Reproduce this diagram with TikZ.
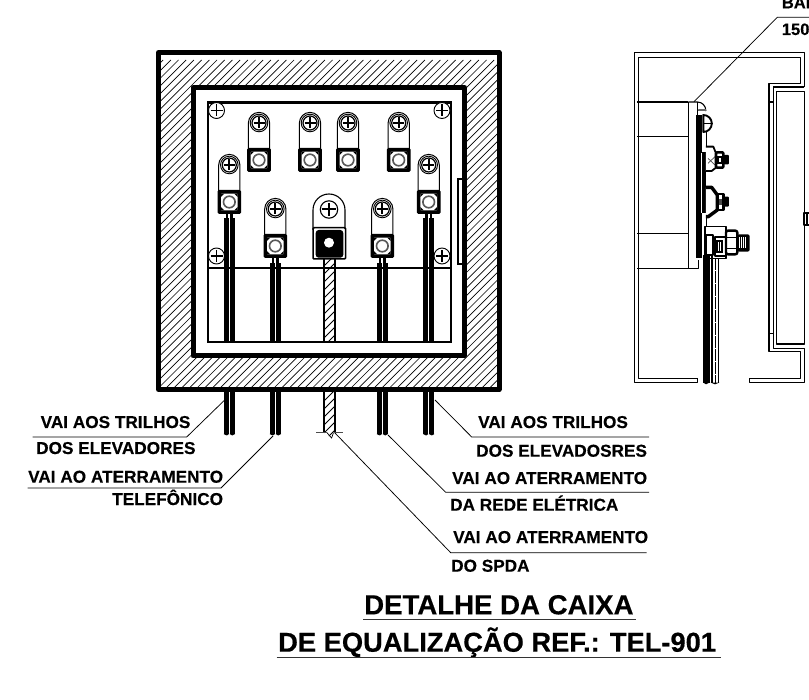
\documentclass[tikz,border=0pt]{standalone}
\usepackage{fontspec}
\setmainfont{Liberation Sans}[BoldFeatures={FakeBold=0.35}]
\tikzset{
  lbl/.style={anchor=base west,inner sep=0pt,font=\bfseries\fontsize{17.2}{19}\selectfont},
  toplbl/.style={anchor=base west,inner sep=0pt,font=\bfseries\fontsize{16.5}{18}\selectfont},
  ttl/.style={anchor=base west,inner sep=0pt,font=\bfseries\fontsize{27.6}{30}\selectfont},
  ttlb/.style={anchor=base west,inner sep=0pt,font=\bfseries\fontsize{27.3}{30}\selectfont},
  leader/.style={draw=black,line width=.75pt},
  thickwall/.style={draw=black,line width=5pt,line join=round},
  thinwall/.style={draw=black,line width=1.1pt,line join=round},
  cornerscrew/.pic={
    \draw[line width=.9pt,fill=white] (0,0) circle[radius=8pt];
    \draw[line width=1.6pt] (-6,0)--(6,0) (0,-6)--(0,6);
  },
  lugpic/.pic={
    \draw[line width=1pt,fill=white] (-10.6,28) -- (-10.6,0) arc[start angle=180,end angle=0,radius=10.6pt] -- (10.6,28);
    \draw[line width=.9pt] (0,0) circle[radius=8.8pt];
    \draw[line width=1.2pt] (0,0) circle[radius=7pt];
    \draw[line width=2pt] (-5.5,0)--(5.5,0) (0,-5.5)--(0,5.5);
    \fill[rounded corners=1.5pt] (-11.8,25) rectangle (11.8,49);
    \fill[white,rounded corners=.6pt] (-8.3,28.6) rectangle (8.3,45.4);
    \fill (-8.3,28.6) -- (-5,28.6) -- (-8.3,32) -- cycle;
    \fill (8.3,28.6) -- (5,28.6) -- (8.3,32) -- cycle;
    \fill (-8.3,45.4) -- (-5,45.4) -- (-8.3,42) -- cycle;
    \fill (8.3,45.4) -- (5,45.4) -- (8.3,42) -- cycle;
    \draw[line width=1.6pt,draw=black!65,fill=white] (0,37) circle[radius=5.8pt];
  }
}
\begin{document}
\begin{tikzpicture}[x=1pt,y=-1pt]
\useasboundingbox (0,0) rectangle (809,700);
% hatching
\begin{scope}
  \clip (158.5,52.5) rectangle (499,389.5);
  \foreach \c in {200,207.7,...,910}{
    \draw[line width=.7pt] (\c-60,60) -- ++(-800,800);
  }
\end{scope}
\fill[white] (193,87.5) rectangle (464.5,356);
\draw[thickwall] (158.5,52.5) rectangle (499,389.5);
\draw[thickwall] (193,87.5) rectangle (464.5,356);
% plate
\draw[line width=1.2pt] (208,102) rectangle (451,342);
\draw[line width=2.6pt] (207,102.3) -- (452,102.3);
\draw[line width=1.3pt] (208,268) -- (451,268);
\draw[line width=1.1pt] (463,264) -- (458,264) -- (458,179) -- (463,179);
% corner screws
\pic (s1) at (216.5,110.5) {cornerscrew};
\pic (s2) at (442,110.5) {cornerscrew};
\pic (s3) at (216.5,256) {cornerscrew};
\pic (s4) at (442,256) {cornerscrew};
% stubs and wires
\foreach \n/\x/\ya/\yb in {a/229.3/213/218,b/275.3/258/263,c/382.3/258/263,d/428.7/213/218}{
  \fill (\x-3.5,\ya) rectangle (\x-1,\yb);
  \fill (\x+1,\ya) rectangle (\x+3.5,\yb);
  \fill (\x-5.7,\yb) rectangle (\x-.3,343);
  \fill (\x+.3,\yb) rectangle (\x+5.7,343);
  \fill (\x-5.7,392) rectangle (\x-.3,434);
  \fill (\x+.3,392) rectangle (\x+5.7,434);
  \fill (\x-5.7,434) -- (\x-2.5,435.5) -- (\x-.3,434) -- cycle;
  \fill (\x+.3,434) -- (\x+3,435.5) -- (\x+5.7,434) -- cycle;
}
% lugs
\pic (l1) at (259,123) {lugpic};
\pic (l2) at (310,123) {lugpic};
\pic (l3) at (348,123) {lugpic};
\pic (l4) at (398.7,123) {lugpic};
\pic (l5) at (229.3,165) {lugpic};
\pic (l6) at (428.7,165) {lugpic};
\pic (l7) at (275.3,209) {lugpic};
\pic (l8) at (382.3,209) {lugpic};
% centre lug
\draw[line width=1.1pt,fill=white] (313,230) -- (313,210) arc[start angle=180,end angle=0,radius=16pt] -- (345,230);
\draw[line width=1.1pt] (329,209.5) circle[radius=8.7pt];
\draw[line width=2pt] (322,209.5)--(336,209.5) (329,203)--(329,216);
\draw[line width=1.5pt,fill=white,rounded corners=1pt] (313,227.7) rectangle (345.5,259);
\fill[rounded corners=3pt] (315.7,230) rectangle (343.3,257.7);
\fill[white] (329,242.7) circle[radius=5pt];
% centre wire, upper part
\begin{scope}
  \clip (324,259) rectangle (335,342);
  \foreach \c in {0,1,...,15}{\draw[line width=.8pt] (320,270+\c*8) -- ++(20,-20);}
\end{scope}
\draw[line width=1.8pt] (324,259.5) -- (324,342) (335,259.5) -- (335,342);
% centre wire, lower part
\begin{scope}
  \clip (324,392) -- (324,432.7) -- (331.6,438) -- (333.5,432.7) -- (335,432.7) -- (335,392) -- cycle;
  \foreach \c in {0,1,...,7}{\draw[line width=.8pt] (320,405+\c*8) -- ++(20,-20);}
\end{scope}
\draw[line width=1.5pt] (324,392) -- (324,432.7) (335,392) -- (335,432.7);
\draw[line width=.7pt] (327,432.7) -- (331.6,438) -- (333.5,432.7);
\draw[line width=.8pt,black!70] (316,432.7) -- (327,432.7) (333.5,432.7) -- (343,432.7);
% side view
\begin{scope}[shift={(620,0)},x=.3333pt,y=-.3333pt,thinwall]
  \draw (233,1136) -- (233,1148) -- (43,1148) -- (43,158) -- (553,158) -- (553,262);
  \draw (233,1136) -- (55,1136) -- (55,172) -- (541,172) -- (541,250) -- (447,250) -- (447,1055) -- (541,1055) -- (541,1136) -- (388,1136) -- (388,1148) -- (553,1148) -- (553,1045) -- (460,1045) -- (460,262);
  \draw[line width=1.7pt] (553,262) -- (458,262);
  \draw (470,1032) -- (470,275) -- (553,275) -- (553,1032) -- cycle;
  \draw (447,306) -- (460,306) (447,1000) -- (460,1000);
  \draw[line width=1.6pt] (52,306) -- (205,306);
  \draw[line width=1.6pt] (52,410) -- (205,410);
  \draw[line width=1.6pt] (52,700) -- (205,700);
  \draw[line width=1.6pt] (52,805) -- (205,805);
  \draw (205,306) -- (205,805) (205,805) -- (235,805) -- (235,780);
  % cap
  \draw (205,306) -- (232,306) arc[start angle=90,end angle=0,radius=8.5pt] -- (232,330);
  \draw (232,306) -- (232,348);
  \draw[black!60] (236,330) -- (258,330);
  \fill (228,345) rectangle (242,775);
  \draw[line width=.8pt] (245,345) -- (245,455) (258,345) -- (258,455) (245,640) -- (245,775) (258,640) -- (258,680);
  \fill (240,455) rectangle (258,640);
  \draw[line width=.5pt,white] (244,460) -- (244,640);
  % screw 1
  \draw[line width=1.9pt,fill=white] (250,345) arc[start angle=90,end angle=-90,radius=8.5pt] -- cycle;
  \draw[line width=1.4pt] (250,371) -- (280,371);
  % bolt 2
  \draw[line width=1.8pt,fill=white] (258,440) -- (280,440) -- (288,460) -- (288,503) -- (275,513) -- (258,513);
  \draw[line width=.7pt,black!70] (264,475) -- (285,495) (264,490) -- (285,470);
  \draw[line width=2.6pt,fill=white,rounded corners=1pt] (288,457) rectangle (310,503);
  \fill (290,468) rectangle (308,492);
  \fill[white] (296,474) rectangle (302,486);
  \fill[rounded corners=1pt] (310,465) rectangle (327,493);
  % bolt 3
  \draw[line width=3.4pt,fill=white] (258,562) -- (275,562) -- (292,585) -- (292,630) -- (265,650) -- (258,650);
  \draw[line width=2.6pt,fill=white] (292,582) rectangle (310,630);
  \fill[black!70] (297,598) rectangle (306,614);
  \fill[rounded corners=1pt] (310,590) rectangle (327,620);
  % bolt 4
  \draw[line width=1.4pt,fill=white] (255,680) rectangle (318,775);
  \draw[line width=1.8pt,fill=white] (258,705) rectangle (280,765);
  \draw[line width=1.8pt,fill=white] (285,712) rectangle (318,768);
  \fill (288,720) rectangle (308,760);
  \foreach \xx in {293,299}{\fill[white] (\xx,726) rectangle (\xx+2,754);}
  \draw[line width=2.4pt,fill=white,rounded corners=2pt] (318,692) rectangle (352,763);
  \draw[line width=.8pt] (320,712) -- (350,712) (320,744) -- (350,744);
  \fill[rounded corners=2pt] (352,703) rectangle (389,755);
  \foreach \xx in {358,364,370,376}{\fill[white] (\xx,712) rectangle (\xx+2,745);}
  % wires
  \fill (250,765) rectangle (270,1148);
  \fill (272,765) rectangle (280,1148);
  \draw[line width=1.1pt,dash pattern=on 12pt off 1pt] (286,775) -- (286,1148);
  \draw[line width=1.4pt] (296,775) -- (296,1148);
  \fill (250,1148) -- (258,1153) -- (268,1148) -- cycle;
  \fill (272,1148) -- (285,1153) -- (298,1148) -- cycle;
  % cut glyph at the page edge
  \draw[line width=2pt] (567,638) -- (553,638) -- (553,675) -- (567,675);
  \draw[line width=2pt] (560,638) -- (560,675);
\end{scope}
% leaders
\coordinate (t1) at (224,400.7);
\coordinate (e1) at (186.7,437);
\coordinate (f1) at (32.7,437);
\draw[leader] (t1) -- (e1) -- (f1);
\coordinate (t2) at (273,436);
\coordinate (e2) at (221,488);
\coordinate (f2) at (27.7,488);
\draw[leader] (t2) -- (e2) -- (f2);
\coordinate (t3) at (435,400);
\coordinate (e3) at (471.7,437);
\coordinate (f3) at (649,437);
\draw[leader] (t3) -- (e3) -- (f3);
\coordinate (t4) at (388,435);
\coordinate (e4) at (445.7,492.3);
\coordinate (f4) at (649,492.3);
\draw[leader] (t4) -- (e4) -- (f4);
\coordinate (t5) at (335,433);
\coordinate (e5) at (450.7,552.7);
\coordinate (f5) at (646.7,552.7);
\draw[leader] (t5) -- (e5) -- (f5);
\coordinate (t6) at (694,101.7);
\coordinate (e6) at (777.3,17.3);
\coordinate (f6) at (809,17.3);
\draw[leader] (t6) -- (e6) -- (f6);
% labels
\node[lbl] (n1) at (40.5,428) {VAI AOS TRILHOS};
\node[lbl] (n2) at (36,454) {DOS ELEVADORES};
\node[lbl] (n3) at (28,482.7) {VAI AO ATERRAMENTO};
\node[lbl] (n4) at (112,505) {TELEFÔNICO};
\node[lbl] (n5) at (478,428) {VAI AOS TRILHOS};
\node[lbl] (n6) at (476,456.7) {DOS ELEVADOSRES};
\node[lbl] (n7) at (452,484) {VAI AO ATERRAMENTO};
\node[lbl] (n8) at (450,510.7) {DA REDE ELÉTRICA};
\node[lbl] (n9) at (453,543) {VAI AO ATERRAMENTO};
\node[lbl] (n10) at (451,571.7) {DO SPDA};
\node[toplbl] (n11) at (781.7,8.3) {BAI};
\node[toplbl] (n12) at (781.7,35) {150};
\node[ttl] (n13) at (364,614.3) {DETALHE DA CAIXA};
\node[ttlb] (n14) at (278,651.7) {DE EQUALIZAÇÃO REF.: TEL-901};
\coordinate (u1a) at (363,619.7);
\coordinate (u1b) at (636,619.7);
\coordinate (u2a) at (276.7,657.7);
\coordinate (u2b) at (721,657.7);
\draw[line width=1.4pt,black!80] (u1a) -- (u1b);
\draw[line width=1.4pt,black!80] (u2a) -- (u2b);
\end{tikzpicture}
\end{document}
